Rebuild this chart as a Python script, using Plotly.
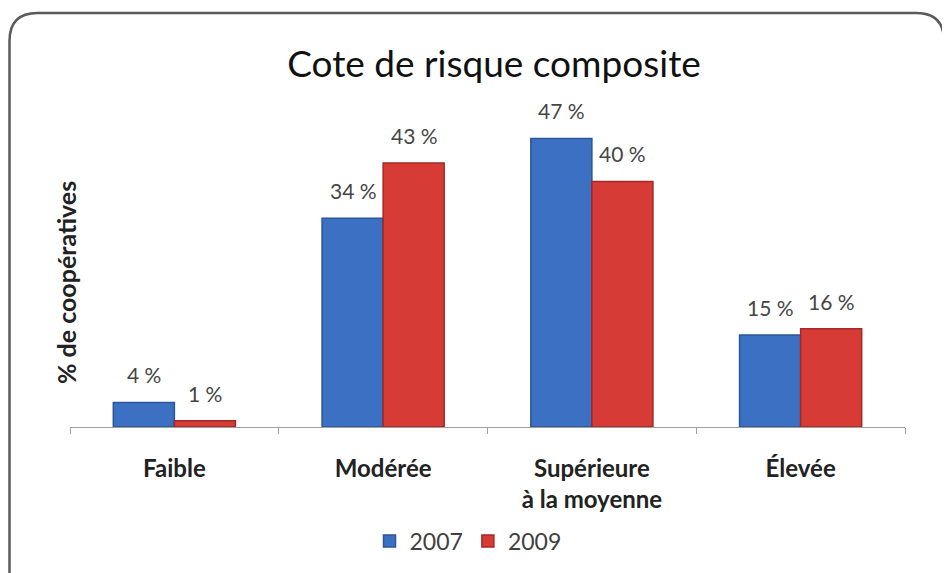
import plotly.graph_objects as go

categories = ["Faible", "Modérée", "Supérieure<br>à la moyenne", "Élevée"]
values_2007 = [4, 34, 47, 15]
values_2009 = [1, 43, 40, 16]
labels_2007 = ["4 %", "34 %", "47 %", "15 %"]
labels_2009 = ["1 %", "43 %", "40 %", "16 %"]

# page body has an 8px margin, so lay out in screen pixels and shift
OFF = 8
W, H = 950, 573
L, R, T, B = 62, 53, 112, 154
pw, ph = W - L - R, H - T - B


def px(x):
    return (x - OFF - L) / pw


def py(y):
    return (H - B - (y - OFF)) / ph


FONT = "Lato, Open Sans, sans-serif"
BLUE, BLUE_EDGE = "#3c70c3", "#2a5596"
RED, RED_EDGE = "#d63b36", "#a22a26"

fig = go.Figure()
fig.add_trace(go.Bar(
    x=categories, y=values_2007, name="2007",
    marker=dict(color=BLUE, line=dict(color=BLUE_EDGE, width=1.5)),
))
fig.add_trace(go.Bar(
    x=categories, y=values_2009, name="2009",
    marker=dict(color=RED, line=dict(color=RED_EDGE, width=1.5)),
))

# value labels above the bars
for cat, v, lab in zip(categories, values_2007, labels_2007):
    fig.add_annotation(x=cat, y=v, text=lab, showarrow=False, xshift=-30,
                       yshift=13, yanchor="bottom",
                       font=dict(size=21, color="#454545", family=FONT))
for cat, v, lab in zip(categories, values_2009, labels_2009):
    fig.add_annotation(x=cat, y=v, text=lab, showarrow=False, xshift=31,
                       yshift=13, yanchor="bottom",
                       font=dict(size=21, color="#454545", family=FONT))

# y axis title
fig.add_annotation(xref="paper", yref="paper", x=px(49), y=py(283),
                   text="<b>% de coopératives</b>", textangle=-90, showarrow=False,
                   font=dict(size=25, color="#222222", family=FONT))

# rounded border around the chart
x0, x1, y0, y1, r = 9.5, 944, 13, 640, 28
path = (
    f"M {px(x0 + r)} {py(y0)} L {px(x1 - r)} {py(y0)} "
    f"Q {px(x1)} {py(y0)} {px(x1)} {py(y0 + r)} "
    f"L {px(x1)} {py(y1)} L {px(x0)} {py(y1)} L {px(x0)} {py(y0 + r)} "
    f"Q {px(x0)} {py(y0)} {px(x0 + r)} {py(y0)}"
)
fig.add_shape(type="path", xref="paper", yref="paper", path=path,
              line=dict(color="#5a5a5a", width=2.5), layer="below")

fig.update_layout(
    width=W, height=H,
    margin=dict(l=L, r=R, t=T, b=B),
    paper_bgcolor="white", plot_bgcolor="white",
    font=dict(family=FONT, color="#222222"),
    title=dict(text="Cote de risque composite", x=px(494), xanchor="center",
               xref="paper", y=1 - (64 - OFF) / H, yanchor="middle",
               font=dict(size=37, color="#111111")),
    barmode="group", bargap=0.415, bargroupgap=0,
    showlegend=True,
    legend=dict(orientation="h", x=px(468), xanchor="center", y=py(541),
                yanchor="middle", font=dict(size=23, color="#404040"),
                itemwidth=30, tracegroupgap=0),
)
fig.update_xaxes(
    showline=True, linecolor="#a0a0a0", linewidth=1,
    ticks="outside", tickson="boundaries", ticklen=6, tickcolor="#a0a0a0",
    tickfont=dict(size=24, color="#222222", family=FONT, weight="bold"),
    ticklabelstandoff=20,
    showgrid=False,
)
fig.update_yaxes(
    range=[0, 50], showticklabels=False, showgrid=False, zeroline=False,
    showline=False, ticks="",
)

fig.write_html("out.html")
